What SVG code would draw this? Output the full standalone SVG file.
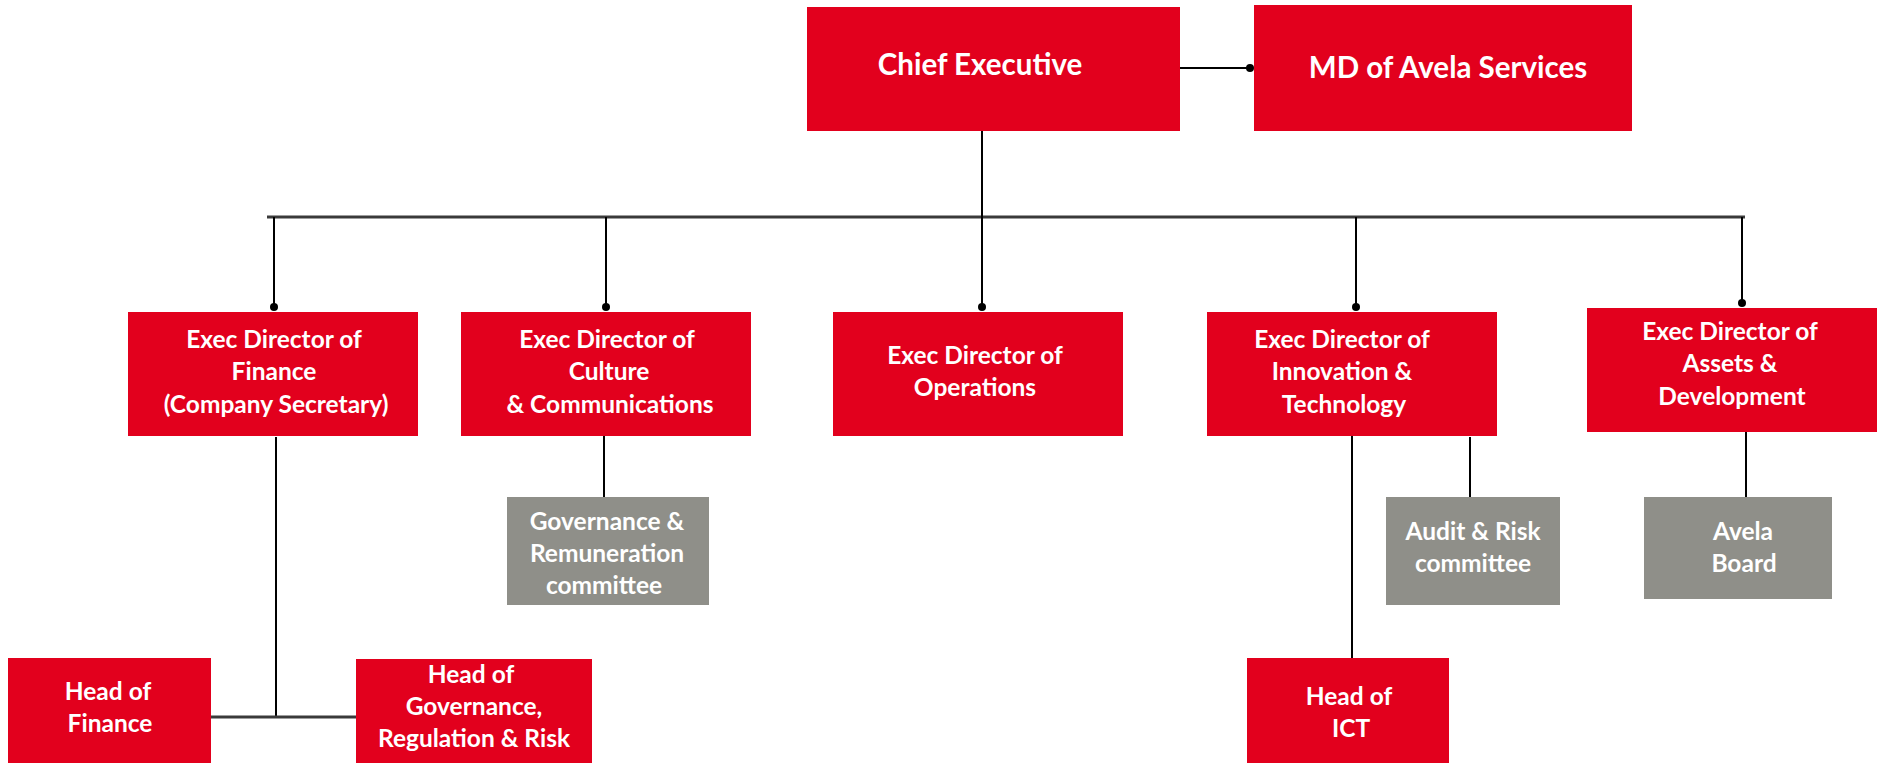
<svg xmlns="http://www.w3.org/2000/svg" width="1881" height="763" viewBox="0 0 1881 763">
<style>
.red{fill:#E2001D}
.grey{fill:#8F8F89}
text{font-family:Lato,"Open Sans","Liberation Sans",sans-serif;font-weight:bold;fill:#fff;text-anchor:middle;font-size:24.5px}
.big{font-size:29.5px}
.ln{stroke:#000;stroke-width:2;fill:none}
.hl{stroke:#3a3a3a;stroke-width:3;fill:none}
.dot{fill:#000}
</style>
<rect width="1881" height="763" fill="#fff"/>
<g id="connectors">
<line class="hl" x1="267" y1="217" x2="1745" y2="217"/>
<line class="ln" x1="982" y1="131" x2="982" y2="307"/>
<line class="ln" x1="274" y1="217" x2="274" y2="307"/>
<line class="ln" x1="606" y1="217" x2="606" y2="307"/>
<line class="ln" x1="1356" y1="217" x2="1356" y2="307"/>
<line class="ln" x1="1742" y1="217" x2="1742" y2="303"/>
<line class="ln" x1="1174" y1="68" x2="1250" y2="68"/>
<line class="ln" x1="276" y1="437" x2="276" y2="717"/>
<line class="hl" x1="211" y1="717" x2="356" y2="717"/>
<line class="ln" x1="604" y1="436" x2="604" y2="497"/>
<line class="ln" x1="1352" y1="432" x2="1352" y2="662"/>
<line class="ln" x1="1470" y1="437" x2="1470" y2="497"/>
<line class="ln" x1="1746" y1="432" x2="1746" y2="497"/>
<circle class="dot" cx="274" cy="307" r="4"/>
<circle class="dot" cx="606" cy="307" r="4"/>
<circle class="dot" cx="982" cy="307" r="4"/>
<circle class="dot" cx="1356" cy="307" r="4"/>
<circle class="dot" cx="1742" cy="303" r="4"/>
<circle class="dot" cx="1250" cy="68" r="4"/>
<circle class="dot" cx="1352" cy="662" r="4"/>
</g>
<g id="chief">
<rect class="red" x="807" y="7" width="373" height="124"/>
<text class="big" x="980" y="75">Chief Executive</text>
</g>
<g id="md">
<rect class="red" x="1254" y="5" width="378" height="126"/>
<text class="big" x="1448" y="78">MD of Avela Services</text>
</g>
<g id="finance">
<rect class="red" x="128" y="312" width="290" height="124"/>
<text x="274" y="348">Exec Director of</text>
<text x="274" y="380">Finance</text>
<text x="276" y="413">(Company Secretary)</text>
</g>
<g id="culture">
<rect class="red" x="461" y="312" width="290" height="124"/>
<text x="607" y="348">Exec Director of</text>
<text x="609" y="380">Culture</text>
<text x="610" y="413">&amp; Communications</text>
</g>
<g id="operations">
<rect class="red" x="833" y="312" width="290" height="124"/>
<text x="975" y="364">Exec Director of</text>
<text x="975" y="396">Operations</text>
</g>
<g id="innovation">
<rect class="red" x="1207" y="312" width="290" height="124"/>
<text x="1342" y="348">Exec Director of</text>
<text x="1342" y="380">Innovation &amp;</text>
<text x="1344" y="413">Technology</text>
</g>
<g id="assets">
<rect class="red" x="1587" y="308" width="290" height="124"/>
<text x="1730" y="340">Exec Director of</text>
<text x="1730" y="372">Assets &amp;</text>
<text x="1732" y="405">Development</text>
</g>
<g id="govrem">
<rect class="grey" x="507" y="497" width="202" height="108"/>
<text x="607" y="530">Governance &amp;</text>
<text x="607" y="562">Remuneration</text>
<text x="604" y="594">committee</text>
</g>
<g id="audit">
<rect class="grey" x="1386" y="497" width="174" height="108"/>
<text x="1473" y="540">Audit &amp; Risk</text>
<text x="1473" y="572">committee</text>
</g>
<g id="board">
<rect class="grey" x="1644" y="497" width="188" height="102"/>
<text x="1743" y="540">Avela</text>
<text x="1744" y="572">Board</text>
</g>
<g id="headfinance">
<rect class="red" x="8" y="658" width="203" height="105"/>
<text x="108" y="700">Head of</text>
<text x="110" y="732">Finance</text>
</g>
<g id="headgov">
<rect class="red" x="356" y="659" width="236" height="104"/>
<text x="471" y="683">Head of</text>
<text x="474" y="715">Governance,</text>
<text x="474" y="747">Regulation &amp; Risk</text>
</g>
<g id="headict">
<rect class="red" x="1247" y="658" width="202" height="105"/>
<text x="1349" y="705">Head of</text>
<text x="1351" y="737">ICT</text>
</g>
</svg>
